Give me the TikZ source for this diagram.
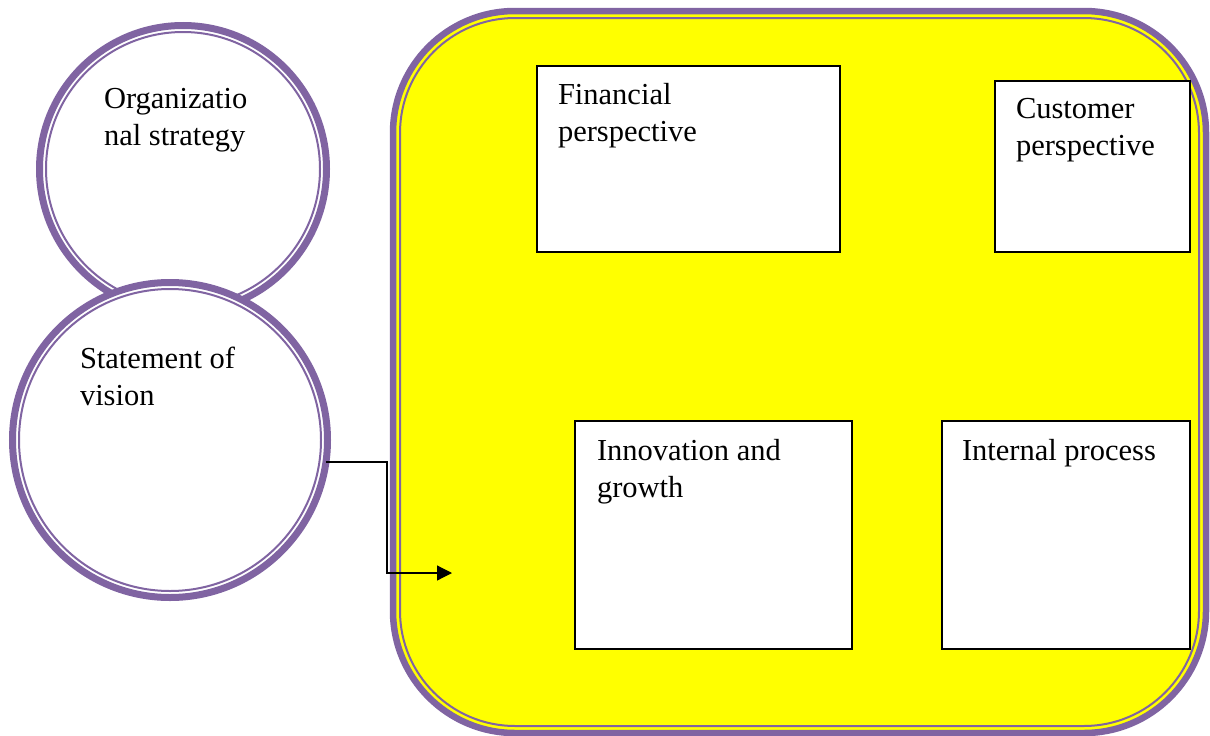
\documentclass[tikz,border=0pt]{standalone}
\usepackage{fontspec}
\setmainfont{Liberation Serif}
\usetikzlibrary{arrows.meta}
\definecolor{ringpurple}{HTML}{8064A2}
\definecolor{panelyellow}{HTML}{FFFF00}
\begin{document}
\begin{tikzpicture}[x=1pt,y=-1pt,
  ring/.style={circle,draw=ringpurple,line width=7pt,fill=white,inner sep=0pt,outer sep=0pt},
  innerring/.style={draw=ringpurple,line width=2pt},
  panel/.style={rectangle,draw=ringpurple,line width=6.5pt,fill=panelyellow,rounded corners=122pt,inner sep=0pt,outer sep=0pt},
  innerpanel/.style={draw=ringpurple,line width=2pt,rounded corners=115pt},
  card/.style={rectangle,draw=black,line width=1.5pt,fill=white,inner sep=0pt,outer sep=0pt},
  label/.style={anchor=base west,inner sep=0pt,outer sep=0pt,align=left,font=\fontsize{30.5}{36.5}\selectfont},
  conn/.style={draw=black,line width=1.2pt,-{Triangle[length=15pt,width=15pt]}}]
\useasboundingbox (0,0) rectangle (1210,736);
\fill[white] (0,0) rectangle (1210,736);
% container panel
\node[panel,minimum width=813pt,minimum height=722pt] (panel) at (799.5,372) {};
\draw[innerpanel] (400,18) rectangle (1199,726);
% circles
\node[ring,minimum size=287pt] (strategy) at (183,169) {};
\draw[innerring] (strategy.center) circle[radius=137pt];
\node[label] (strategytext) at (104,145) {Organizatio\\nal strategy};
\node[ring,minimum size=315pt] (vision) at (170,440) {};
\draw[innerring] (vision.center) circle[radius=151pt];
\node[label] (visiontext) at (80,405) {Statement of\\vision};
% boxes
\node[card,minimum width=303pt,minimum height=186pt] (financial) at (688.5,159) {};
\node[label] (financialtext) at (558,141) {Financial\\perspective};
\node[card,minimum width=195pt,minimum height=171pt] (customer) at (1092.5,166.5) {};
\node[label] (customertext) at (1016,155) {Customer\\perspective};
\node[card,minimum width=277pt,minimum height=228pt] (innovation) at (713.5,535) {};
\node[label] (innovationtext) at (597,497) {Innovation and\\growth};
\node[card,minimum width=248pt,minimum height=228pt] (internal) at (1066,535) {};
\node[label] (internaltext) at (962,460) {Internal process};
% connector
\coordinate (bend) at (387,573);
\coordinate (arrowtip) at (452,573);
\draw[conn] (vision.-8) -| (bend) -- (arrowtip);
\end{tikzpicture}
\end{document}
